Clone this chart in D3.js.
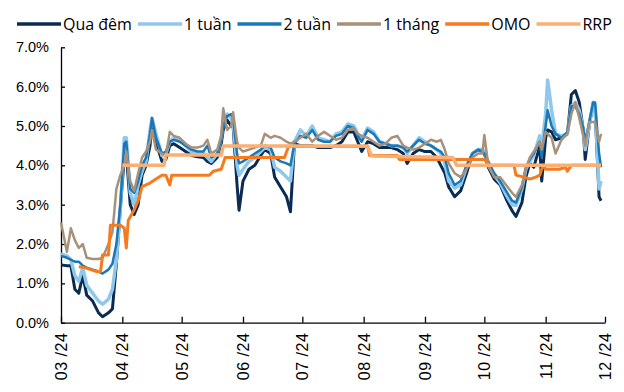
<!DOCTYPE html>
<html>
<head>
<meta charset="utf-8">
<script src="https://cdn.jsdelivr.net/npm/d3@7"></script>
<style>
  body { margin: 0; background: #fff; }
  svg { display: block; font-family: 'Open Sans', sans-serif; }
</style>
</head>
<body>
<div id="chart"></div>
<script>
// Lãi suất liên ngân hàng (%), ngày quan sát
const ngay = [
  '2024-03-01','2024-03-04','2024-03-06','2024-03-08','2024-03-10','2024-03-12','2024-03-14','2024-03-17','2024-03-20','2024-03-22','2024-03-25','2024-03-27','2024-03-29','2024-03-31',
  '2024-04-02','2024-04-03','2024-04-05','2024-04-07','2024-04-09','2024-04-11','2024-04-13','2024-04-15','2024-04-16','2024-04-18','2024-04-21','2024-04-23','2024-04-25','2024-04-27','2024-04-30',
  '2024-05-03','2024-05-06','2024-05-09','2024-05-12','2024-05-14','2024-05-16','2024-05-19','2024-05-21','2024-05-22','2024-05-24','2024-05-26','2024-05-27','2024-05-29','2024-05-30',
  '2024-06-01','2024-06-04','2024-06-07','2024-06-10','2024-06-12','2024-06-15','2024-06-17','2024-06-20','2024-06-23','2024-06-25','2024-06-27','2024-06-30',
  '2024-07-03','2024-07-06','2024-07-09','2024-07-12','2024-07-15','2024-07-18','2024-07-21','2024-07-24','2024-07-27','2024-07-29','2024-07-31',
  '2024-08-03','2024-08-06','2024-08-09','2024-08-12','2024-08-15','2024-08-18','2024-08-21','2024-08-23','2024-08-26','2024-08-29',
  '2024-09-01','2024-09-04','2024-09-07','2024-09-09','2024-09-11','2024-09-13','2024-09-16','2024-09-19','2024-09-22','2024-09-25','2024-09-28','2024-09-30',
  '2024-10-01','2024-10-03','2024-10-06','2024-10-09','2024-10-12','2024-10-15','2024-10-17','2024-10-20','2024-10-22','2024-10-24','2024-10-26','2024-10-29','2024-10-30',
  '2024-11-01','2024-11-02','2024-11-04','2024-11-06','2024-11-09','2024-11-12','2024-11-14','2024-11-16','2024-11-18','2024-11-20','2024-11-21','2024-11-23','2024-11-25','2024-11-26','2024-11-28','2024-11-29'
];

const quaDem = [
  1.47,1.45,1.45,0.85,0.75,1.2,0.7,0.55,0.25,0.15,0.25,0.35,1.5,2.9,
  4.2,4.3,3.0,2.75,3.0,3.75,4.0,4.5,5.0,4.6,4.1,4.15,4.5,4.55,4.45,
  4.35,4.25,4.22,4.2,4.1,4.05,4.2,4.55,4.9,5.15,5.0,5.0,3.5,2.86,
  3.6,3.9,4.0,4.25,4.4,4.3,3.7,3.45,3.2,2.82,4.55,4.5,
  4.5,4.5,4.45,4.45,4.45,4.5,4.6,4.85,4.85,4.6,4.35,
  4.6,4.55,4.45,4.45,4.45,4.4,4.3,4.05,4.3,4.4,
  4.35,4.35,4.2,4.0,3.8,3.45,3.2,3.35,3.8,4.3,4.4,4.35,
  4.3,3.95,3.65,3.5,3.15,2.85,2.7,3.05,3.7,4.05,3.95,4.5,3.6,
  4.7,4.9,4.85,4.65,4.7,4.8,5.8,5.9,5.6,4.9,4.15,5.0,5.57,5.4,3.2,3.1
];
const motTuan = [
  1.75,1.7,1.6,1.2,1.05,1.4,0.95,0.75,0.55,0.47,0.6,0.85,1.6,2.9,
  4.7,4.7,3.3,3.0,3.5,3.85,4.1,4.9,5.2,4.8,4.25,4.3,4.6,4.7,4.65,
  4.5,4.35,4.3,4.3,4.2,4.1,4.3,4.7,5.1,5.3,5.2,5.1,4.0,3.75,
  3.9,4.1,4.2,4.35,4.45,4.4,3.95,3.85,3.7,3.6,4.6,4.9,
  4.75,5.0,4.7,4.65,4.6,4.8,4.85,5.05,5.0,4.8,4.65,
  4.95,4.85,4.6,4.55,4.5,4.5,4.45,4.3,4.5,4.7,
  4.6,4.5,4.4,4.3,4.05,3.6,3.42,3.5,3.95,4.3,4.4,4.4,
  4.35,4.0,3.75,3.55,3.25,3.0,2.98,3.4,3.9,4.1,4.25,4.75,4.45,
  5.3,6.17,5.4,4.8,4.75,4.8,5.5,5.6,5.4,4.9,4.4,5.0,5.6,5.5,3.4,3.6
];
const haiTuan = [
  1.7,1.65,1.6,1.55,1.55,1.45,1.4,1.35,1.3,1.25,1.35,1.5,2.0,3.0,
  4.55,4.6,3.4,3.3,3.6,4.0,4.2,4.8,5.2,4.7,4.3,4.35,4.6,4.65,4.6,
  4.5,4.4,4.35,4.35,4.5,4.2,4.3,4.65,5.0,5.25,5.3,5.2,4.3,4.05,
  4.1,4.2,4.3,4.4,4.5,4.45,4.2,4.1,4.05,4.0,4.55,4.75,
  4.7,4.9,4.65,4.6,4.6,4.75,4.8,5.0,4.95,4.75,4.6,
  4.9,4.8,4.6,4.55,4.5,4.5,4.45,4.35,4.5,4.65,
  4.55,4.5,4.4,4.35,4.2,3.8,3.5,3.6,4.0,4.3,4.4,4.35,
  4.3,4.1,3.8,3.6,3.35,3.1,3.05,3.45,3.95,4.15,4.3,4.6,4.2,
  5.0,5.4,5.0,4.8,4.7,4.85,5.5,5.5,5.3,4.95,4.6,5.1,5.6,5.6,4.3,3.95
];
const motThang = [
  2.55,1.8,2.4,2.1,1.9,2.0,1.65,1.62,1.62,1.65,2.0,2.3,3.4,3.75,
  4.0,4.35,3.6,3.35,3.8,4.2,4.35,4.6,4.9,4.4,4.3,4.25,4.85,4.75,4.7,
  4.55,4.45,4.45,4.5,4.65,4.3,4.4,4.75,5.45,4.9,5.0,5.35,4.6,4.45,
  4.35,4.4,4.45,4.5,4.8,4.7,4.75,4.7,4.6,4.55,4.6,4.7,
  4.8,4.6,4.75,4.85,4.75,4.65,4.7,4.9,4.95,4.8,4.75,
  4.7,4.6,4.5,4.55,4.7,4.75,4.5,4.45,4.4,4.45,
  4.55,4.65,4.6,4.65,4.4,4.05,3.8,3.7,3.9,4.2,4.3,4.3,
  4.77,4.0,3.7,3.7,3.5,3.3,3.2,3.5,3.9,4.2,4.35,4.6,4.4,
  4.85,4.8,4.7,4.3,4.65,4.8,5.3,5.6,5.2,4.75,4.5,5.1,5.1,5.1,4.6,4.8
];

// Lãi suất OMO
const ngayOMO = [
  '2024-03-10','2024-03-13','2024-03-16','2024-03-19','2024-03-21','2024-03-22','2024-03-25','2024-03-26','2024-03-31',
  '2024-04-02','2024-04-03','2024-04-04','2024-04-07','2024-04-09','2024-04-11','2024-04-15','2024-04-18','2024-04-21','2024-04-23','2024-04-25','2024-04-26',
  '2024-05-15','2024-05-17','2024-05-21','2024-05-23','2024-06-22','2024-06-24','2024-08-03','2024-08-04','2024-08-18','2024-08-19',
  '2024-10-01','2024-10-04','2024-10-16','2024-10-17','2024-10-21','2024-10-24','2024-10-27','2024-10-29','2024-10-30','2024-10-31',
  '2024-11-01','2024-11-08','2024-11-11','2024-11-12','2024-11-14','2024-11-29'
];
const omo = [
  1.42,1.4,1.35,1.3,1.3,1.72,1.72,2.48,2.48,
  2.4,1.9,2.6,2.87,3.1,3.46,3.55,3.65,3.75,3.75,3.5,3.75,
  3.75,3.85,3.9,4.2,4.2,4.48,4.48,4.25,4.25,4.15,
  4.15,4.0,4.0,3.75,3.7,3.65,3.7,3.75,3.9,4.0,
  3.9,3.9,3.95,3.85,4.0,4.0
];

// Lãi suất RRP
const ngayRRP = ['2024-04-01','2024-04-22','2024-04-23','2024-05-21','2024-05-22','2024-08-03','2024-08-05','2024-09-15','2024-09-17','2024-11-29'];
const rrp = [4.0,4.0,4.26,4.26,4.49,4.49,4.24,4.2,4.0,4.0];

const nhanTrucY = [0,1,2,3,4,5,6,7];

const parse = d3.timeParse('%Y-%m-%d');
const chuoi = [
  { ten: 'Qua đêm', ngay: ngay, gt: quaDem, mau: '#0c2b52', rong: 3 },
  { ten: '1 tuần', ngay: ngay, gt: motTuan, mau: '#8ec8ec', rong: 3.5 },
  { ten: '2 tuần', ngay: ngay, gt: haiTuan, mau: '#1a78b8', rong: 2.5 },
  { ten: '1 tháng', ngay: ngay, gt: motThang, mau: '#a8917a', rong: 2.5 },
  { ten: 'OMO', ngay: ngayOMO, gt: omo, mau: '#f47b20', rong: 3 },
  { ten: 'RRP', ngay: ngayRRP, gt: rrp, mau: '#fbaf72', rong: 3.5 }
];

const W = 624, H = 392;
const svg = d3.select('#chart').append('svg').attr('width', W).attr('height', H);

const x = d3.scaleTime()
  .domain([parse('2024-03-01'), parse('2024-12-01')])
  .range([61, 605]);
const y = d3.scaleLinear().domain([0, 7]).range([322.7, 47.3]);

// Trục Y
const gy = svg.append('g')
  .attr('transform', 'translate(61,0)')
  .call(d3.axisLeft(y).tickValues(nhanTrucY).tickSize(-4).tickSizeOuter(0).tickPadding(12)
    .tickFormat(d => d.toFixed(1) + '%'));
gy.selectAll('text').style('font-size', '14.5px').attr('fill', '#000');

// Trục X
const gx = svg.append('g')
  .attr('transform', 'translate(0,322.7)')
  .call(d3.axisBottom(x).ticks(d3.timeMonth.every(1)).tickSize(-6).tickSizeOuter(0)
    .tickFormat(d3.timeFormat('%m /%y')));
gx.selectAll('text')
  .attr('transform', 'rotate(-90)')
  .attr('x', -10).attr('y', 0).attr('dy', '0.35em')
  .style('text-anchor', 'end').style('font-size', '16px').style('letter-spacing', '0.5px')
  .attr('fill', '#000');

svg.selectAll('.domain, .tick line').attr('stroke', '#000').attr('stroke-width', 1.3);

// Các đường
const line = d3.line().x(d => x(d[0])).y(d => y(d[1]));
chuoi.forEach(s => {
  const pts = s.ngay.map((d, i) => [parse(d), s.gt[i]]);
  svg.append('path')
    .datum(pts)
    .attr('fill', 'none')
    .attr('stroke', s.mau)
    .attr('stroke-width', s.rong)
    .attr('stroke-linejoin', 'round')
    .attr('d', line);
});

// Chú thích
let lx = 17;
chuoi.forEach(s => {
  svg.append('line')
    .attr('x1', lx).attr('x2', lx + 44).attr('y1', 24).attr('y2', 24)
    .attr('stroke', s.mau).attr('stroke-width', 3.5);
  const t = svg.append('text')
    .attr('x', lx + 46).attr('y', 29.5)
    .style('font-size', '16px')
    .text(s.ten);
  lx += 46 + t.node().getComputedTextLength() + 6;
});
</script>
</body>
</html>
